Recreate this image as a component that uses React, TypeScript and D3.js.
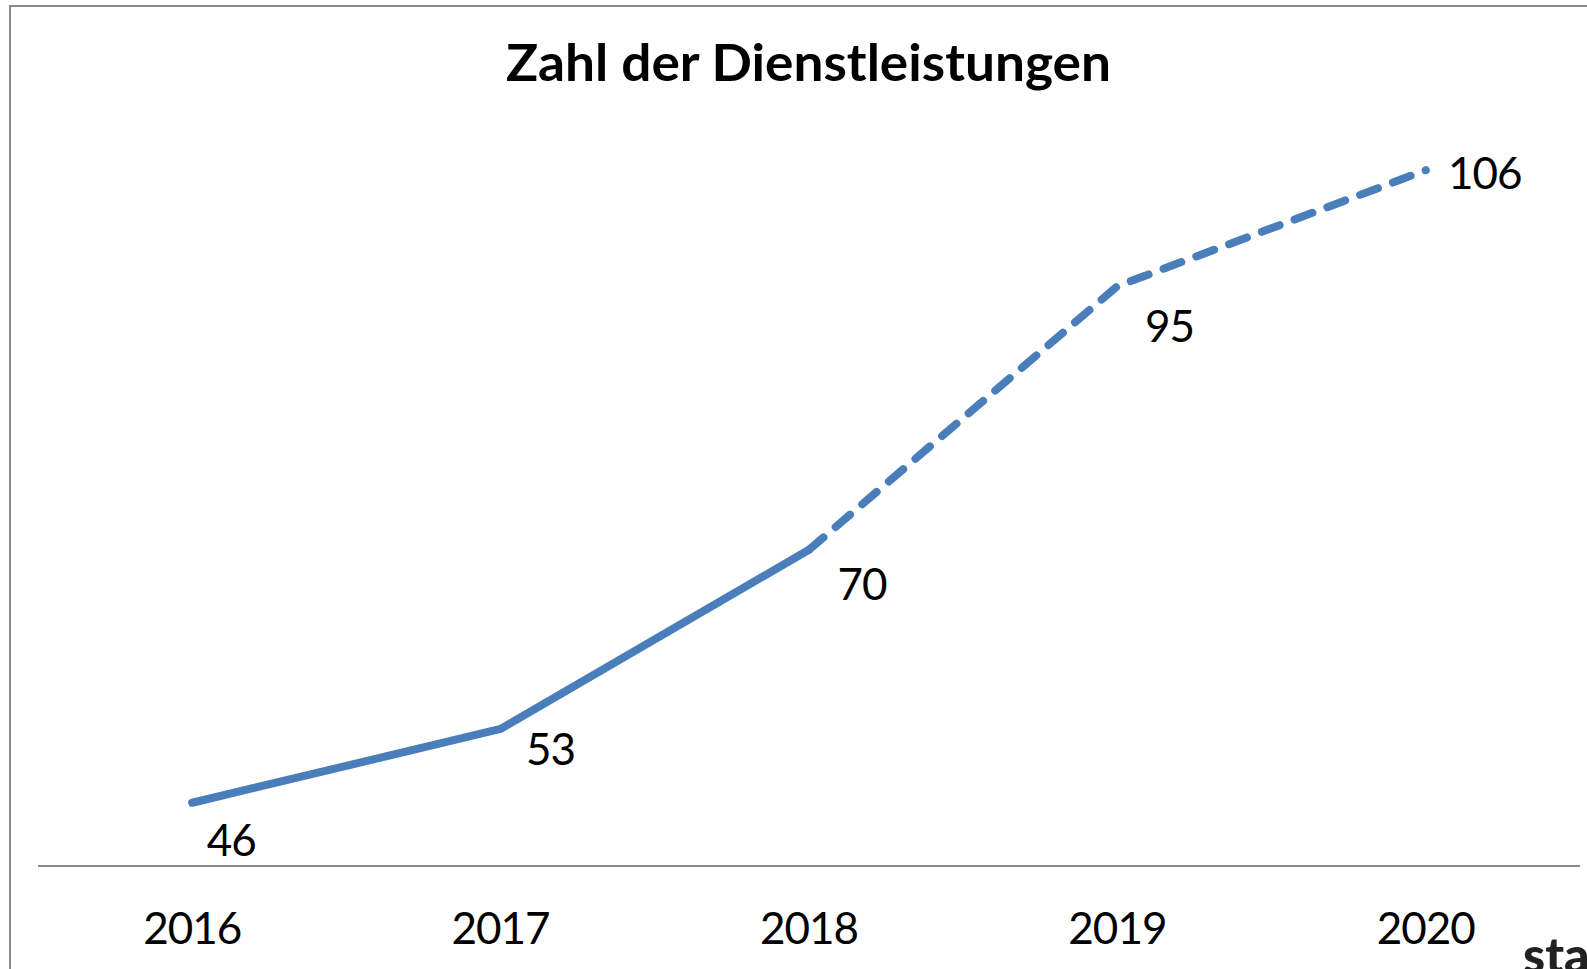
import React from "react";
import * as d3 from "d3";

const years = ["2016", "2017", "2018", "2019", "2020"];
const values = [46, 53, 70, 95, 106];
const dashedFromIndex = 2; // line becomes dashed from 2018 onward
const title = "Zahl der Dienstleistungen";

// label placement offsets (layout constants)
const labelDx = [39, 50, 53, 52, 59];
const labelDy = [53, 36, 50, 56, 19];

const W = 1587;
const H = 969;
const FONT = "Lato, 'Open Sans', sans-serif";
const BLUE = "#4A7EBB";
const GRAY = "#8A8A8A";

export default function App() {
  const x = d3.scaleBand<string>().domain(years).range([38, 1580]);
  const y = d3.scaleLinear().domain([40, 110]).range([866, 128]);
  const cx = (i: number) => (x(years[i]) as number) + x.bandwidth() / 2;

  const pts = values.map((v, i) => [cx(i), y(v)] as [number, number]);
  const line = d3.line<[number, number]>().x((d) => d[0]).y((d) => d[1]);
  const solid = line(pts.slice(0, dashedFromIndex + 1)) || "";
  const dashed = line(pts.slice(dashedFromIndex)) || "";

  return (
    <svg
      width={W}
      height={H}
      style={{ position: "absolute", left: 0, top: 0, background: "#fff" }}
    >
      <rect x={0} y={0} width={W} height={H} fill="#fff" />
      {/* frame */}
      <path d={`M10,${H + 5} V6 H${W + 5}`} fill="none" stroke={GRAY} strokeWidth={2} />
      {/* title */}
      <text
        x={808.5}
        y={81}
        textAnchor="middle"
        fontFamily={FONT}
        fontWeight={700}
        fontSize={51}
        textLength={605}
        lengthAdjust="spacingAndGlyphs"
        fill="#000"
      >
        {title}
      </text>
      {/* x axis line */}
      <line x1={38} x2={1580} y1={y(40)} y2={y(40)} stroke={GRAY} strokeWidth={2} />
      {/* year labels */}
      {years.map((yr, i) => (
        <text
          key={yr}
          x={cx(i)}
          y={944}
          textAnchor="middle"
          fontFamily={FONT}
          fontSize={44}
          letterSpacing={-1}
          fill="#000"
        >
          {yr}
        </text>
      ))}
      {/* series */}
      <path
        d={solid}
        fill="none"
        stroke={BLUE}
        strokeWidth={8}
        strokeLinecap="round"
        strokeLinejoin="round"
      />
      <path
        d={dashed}
        fill="none"
        stroke={BLUE}
        strokeWidth={8}
        strokeLinecap="round"
        strokeLinejoin="round"
        strokeDasharray="19 16"
      />
      {/* data labels */}
      {values.map((v, i) => (
        <text
          key={i}
          x={cx(i) + labelDx[i]}
          y={y(v) + labelDy[i]}
          textAnchor="middle"
          fontFamily={FONT}
          fontSize={44}
          letterSpacing={-1}
          fill="#000"
        >
          {v}
        </text>
      ))}
      {/* watermark fragment, cut off at the edge as in the source */}
      <text
        x={1523}
        y={973}
        fontFamily={FONT}
        fontWeight={900}
        fontSize={50}
        fill="#222"
      >
        sta
      </text>
    </svg>
  );
}
